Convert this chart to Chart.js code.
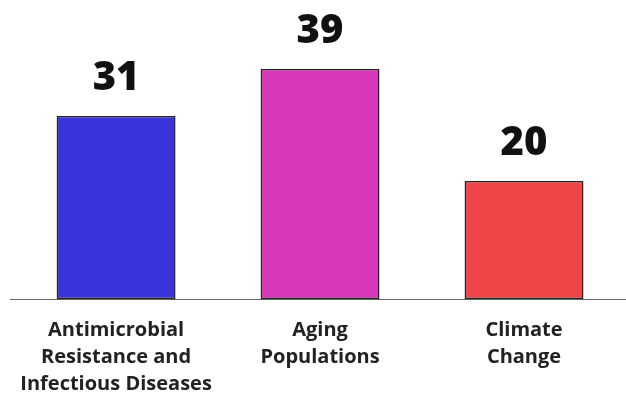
<!DOCTYPE html>
<html>
<head>
<meta charset="utf-8">
<script src="https://cdn.jsdelivr.net/npm/chart.js@4/dist/chart.umd.min.js"></script>
<style>
  html, body { margin: 0; padding: 0; background: #fff; overflow: hidden; }
  #wrap { width: 626px; height: 394px; }
  canvas { display: block; }
</style>
</head>
<body>
<div id="wrap"><canvas id="c" width="626" height="394"></canvas></div>
<script>
const categories = [
  ["Antimicrobial", "Resistance and", "Infectious Diseases"],
  ["Aging", "Populations"],
  ["Climate", "Change"]
];
const values = [31, 39, 20];
const barColors = ["#3a33da", "#d937b9", "#ef4448"];

// Baseline across the full width, then each bar's value above it
const valueLabels = {
  id: "valueLabels",
  beforeDatasetsDraw(chart) {
    const { ctx, chartArea } = chart;
    ctx.save();
    ctx.strokeStyle = "#666";
    ctx.lineWidth = 1;
    ctx.beginPath();
    ctx.moveTo(10, chartArea.bottom + 0.5);
    ctx.lineTo(chart.width, chartArea.bottom + 0.5);
    ctx.stroke();
    ctx.restore();
  },
  afterDatasetsDraw(chart) {
    const { ctx } = chart;
    const meta = chart.getDatasetMeta(0);
    ctx.save();
    ctx.font = "800 40px 'Open Sans'";
    ctx.fillStyle = "#111";
    ctx.textAlign = "center";
    ctx.textBaseline = "alphabetic";
    meta.data.forEach((bar, i) => {
      ctx.fillText(String(values[i]), bar.x, bar.y - 26);
    });
    ctx.restore();
  }
};

new Chart(document.getElementById("c"), {
  type: "bar",
  data: {
    labels: categories,
    datasets: [{
      data: values,
      backgroundColor: barColors,
      borderColor: "#222",
      borderWidth: 1.5,
      borderSkipped: false,
      barPercentage: 0.583,
      categoryPercentage: 1
    }]
  },
  options: {
    responsive: false,
    animation: false,
    devicePixelRatio: 1,
    layout: { padding: { top: 63, left: 14, right: 0, bottom: 0 } },
    plugins: { legend: { display: false }, tooltip: { enabled: false } },
    scales: {
      y: { display: false, min: 0, max: 40 },
      x: {
        grid: { display: false, drawTicks: false },
        border: { display: false },
        afterFit(scale) { scale.height = 95; },
        ticks: {
          color: "#222",
          padding: 18,
          maxRotation: 0,
          autoSkip: false,
          font: { family: "'Open Sans'", weight: "bold", size: 20, lineHeight: 1.35 }
        }
      }
    }
  },
  plugins: [valueLabels]
});
</script>
</body>
</html>
